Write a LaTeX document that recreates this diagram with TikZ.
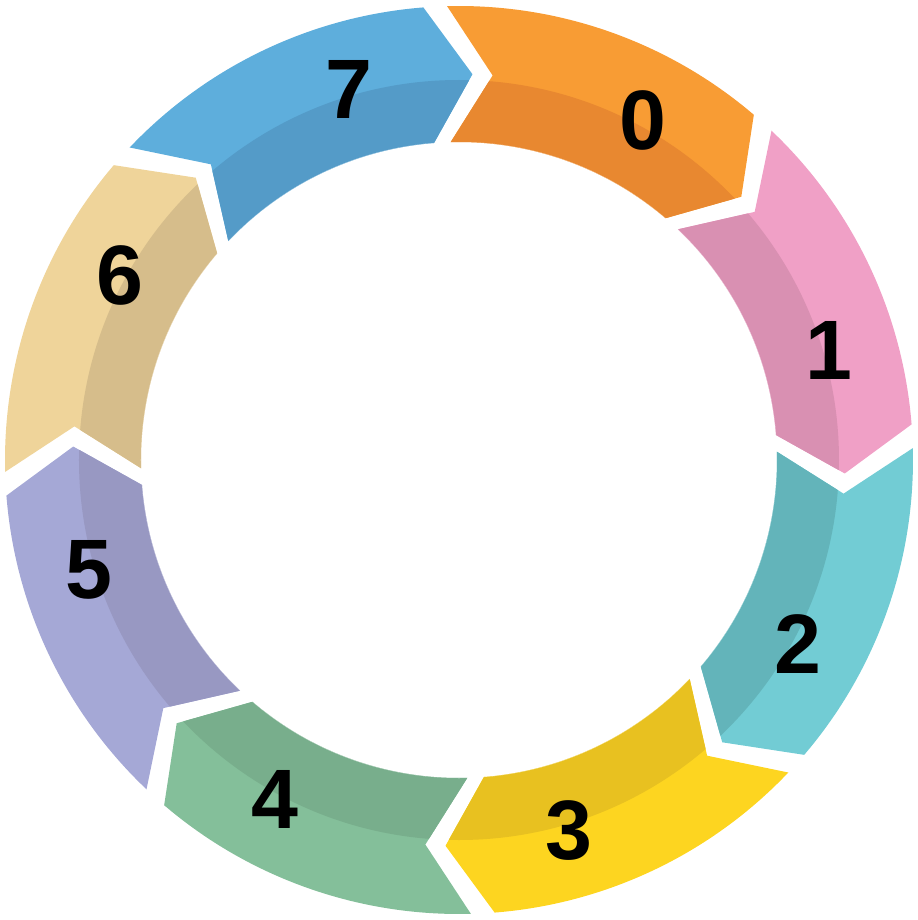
\documentclass[tikz,border=0pt]{standalone}
\usepackage{fontspec}
\setmainfont{Liberation Sans}
\begin{document}
\begin{tikzpicture}[x=0.02cm,y=0.02cm,lbl/.style={font=\fontsize{48}{48}\selectfont\bfseries,text=black}]
\useasboundingbox (-459,-460) rectangle (459,460);
\definecolor{l0}{HTML}{F89C34}\definecolor{d0}{HTML}{E88830}
\definecolor{l1}{HTML}{F0A0C6}\definecolor{d1}{HTML}{D990B2}
\definecolor{l2}{HTML}{72CCD4}\definecolor{d2}{HTML}{63B4BA}
\definecolor{l3}{HTML}{FDD520}\definecolor{d3}{HTML}{E8C120}
\definecolor{l4}{HTML}{84BF9A}\definecolor{d4}{HTML}{78AE8C}
\definecolor{l5}{HTML}{A5A8D6}\definecolor{d5}{HTML}{9898C2}
\definecolor{l6}{HTML}{EFD49A}\definecolor{d6}{HTML}{D6BD8B}
\definecolor{l7}{HTML}{5EAEDC}\definecolor{d7}{HTML}{549BC8}
\def\RO{454}\def\RI{318}\def\RM{386}\def\RB{380}
\foreach \k in {0,...,7}{
  \pgfmathsetmacro{\s}{91.5-45*\k}
  \pgfmathsetmacro{\e}{\s-42}
  \pgfmathsetmacro{\et}{\e-6.5}
  \pgfmathsetmacro{\st}{\s-6.5}
  \pgfmathsetmacro{\la}{\s-30}
  \begin{scope}
    \clip (\s:\RO) arc[start angle=\s,end angle=\e,radius=\RO] -- (\et:\RM) -- (\e:\RI)
      arc[start angle=\e,end angle=\s,radius=\RI] -- (\st:\RM) -- cycle;
    \fill[l\k] (0,0) circle[radius=470];
    \fill[d\k] (0,0) circle[radius=\RB];
    \fill[white] (0,0) circle[radius=\RI];
  \end{scope}
  \node[lbl] (n\k) at (\la:\RM) {\k};
}
\end{tikzpicture}
\end{document}
